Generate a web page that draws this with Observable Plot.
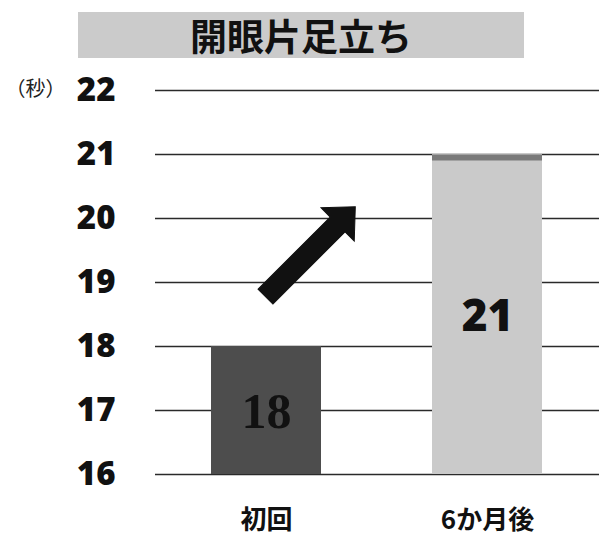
<!DOCTYPE html>
<html>
<head>
<meta charset="utf-8">
<script src="https://cdn.jsdelivr.net/npm/d3@7"></script>
<script src="https://cdn.jsdelivr.net/npm/@observablehq/plot@0.6"></script>
<style>
  html, body { margin: 0; padding: 0; background: #fff; }
  #wrap { position: relative; width: 599px; height: 535px; overflow: hidden; }
  #title {
    position: absolute; left: 78px; top: 12px; width: 446px; height: 46px;
    background: #cbcbcb;
    font-family: "Noto Sans CJK JP", sans-serif; font-weight: 700; font-size: 37px;
    color: #111; text-align: center; line-height: 46px; letter-spacing: 0px;
  }
  #chart { position: absolute; left: 0; top: 62px; }
</style>
</head>
<body>
<div id="wrap">
  <div id="title">開眼片足立ち</div>
  <div id="chart"></div>
</div>
<script>
// Single-leg standing time with eyes open (seconds)
const categories = ["初回", "6か月後"];
const seconds = [18, 21];
const barColors = ["#4d4d4d", "#cacaca"];
const yTicks = [16, 17, 18, 19, 20, 21, 22];
const unitLabel = "（秒）";

const rows = categories.map((c, i) => ({category: c, value: seconds[i], color: barColors[i]}));

// Arrow rising from the first bar toward the second
const arrowShape = {
  draw(context, l) {
    const w = 10.5, hw = 23.5, hl = 25;
    context.moveTo(-w, 0);
    context.lineTo(-w, -(l - hl));
    context.lineTo(-hw, -(l - hl));
    context.lineTo(0, -l);
    context.lineTo(hw, -(l - hl));
    context.lineTo(w, -(l - hl));
    context.lineTo(w, 0);
    context.closePath();
  }
};

const chart = Plot.plot({
  width: 599,
  height: 473,
  marginTop: 28,
  marginBottom: 61,
  marginLeft: 155,
  marginRight: 0,
  x: {domain: categories, paddingInner: 0.502, paddingOuter: 0.2555, label: null},
  y: {domain: [16, 22], label: null},
  style: {background: "transparent", color: "#111"},
  marks: [
    Plot.ruleY(yTicks, {stroke: "#2a2a2a", strokeWidth: 1.6}),
    Plot.barY(rows, {x: "category", y1: 16, y2: "value", fill: "color"}),
    Plot.tickY(rows.filter(d => d.category === categories[1]),
      {x: "category", y: "value", stroke: "#7a7a7a", strokeWidth: 6, dy: 3}),
    Plot.text(rows.filter(d => d.category === categories[0]),
      {x: "category", y: d => d.value - 1, text: d => String(d.value), dy: 1,
       fontFamily: "Liberation Serif", fontWeight: 700, fontSize: 50, fill: "#111"}),
    Plot.text(rows.filter(d => d.category === categories[1]),
      {x: "category", y: d => d.value - 2.5, text: d => String(d.value), dy: 2,
       fontFamily: "Open Sans", fontWeight: 800, fontSize: 44, fill: "#111"}),
    Plot.vector([{category: categories[0], value: 18.78}],
      {x: "category", y: "value", rotate: 45, length: 127, anchor: "start", dx: -1,
       shape: arrowShape, fill: "#111", stroke: "#111", strokeWidth: 1, strokeLinejoin: "miter"}),
    Plot.text([unitLabel], {frameAnchor: "left", y: 22, dx: -150, dy: -1, textAnchor: "start",
       fontFamily: "Noto Sans CJK JP", fontSize: 20, fill: "#222"}),
    Plot.axisY({ticks: yTicks, tickSize: 0, tickPadding: 40, tickFormat: d => String(d),
       fontFamily: "Open Sans", fontWeight: 800, fontSize: 33, fill: "#111"}),
    Plot.axisX({tickSize: 0, tickPadding: 36, fontFamily: "Noto Sans CJK JP",
       fontWeight: 700, fontSize: 26, fill: "#111"})
  ]
});
document.getElementById("chart").appendChild(chart);
</script>
</body>
</html>
